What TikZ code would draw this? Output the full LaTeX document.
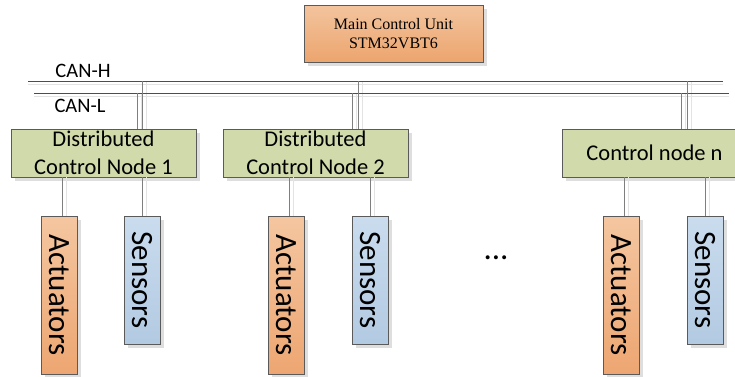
\documentclass[tikz,border=0pt]{standalone}
\usepackage{fontspec}
\setmainfont{Carlito}
\newfontfamily\serifx{Liberation Serif}
\usetikzlibrary{shadows}
\definecolor{busline}{HTML}{4D4D4D}
\definecolor{dropline}{HTML}{7F7F7F}
\definecolor{shline}{HTML}{E3E3E3}
\definecolor{boxborder}{HTML}{5A5A5A}
\definecolor{mainTop}{HTML}{F3C49E}
\definecolor{mainBot}{HTML}{ECA56E}
\definecolor{nodeFill}{HTML}{D0DAAB}
\definecolor{actL}{HTML}{EDA672}
\definecolor{actR}{HTML}{F4C6A0}
\definecolor{senL}{HTML}{B2CAE2}
\definecolor{senR}{HTML}{CADCEE}
\tikzset{
  boxshadow/.style={drop shadow={shadow xshift=3.5pt,shadow yshift=-3.5pt,fill=black!13,opacity=1}},
  mainbox/.style={draw=boxborder,line width=0.8pt,top color=mainTop,bottom color=mainBot,boxshadow,
    minimum width=179pt,minimum height=57pt,inner sep=0pt,align=center,
    font=\serifx\fontsize{16}{19}\selectfont},
  ctrlbox/.style={draw=boxborder,line width=0.8pt,fill=nodeFill,boxshadow,
    minimum width=185pt,minimum height=48pt,inner sep=0pt,align=center,
    font=\fontsize{22.5}{28}\selectfont},
  actbox/.style={draw=boxborder,line width=0.8pt,top color=actR,bottom color=actL,boxshadow,
    minimum width=158pt,minimum height=36pt,inner sep=0pt,rotate=-90,
    font=\fontsize{31}{36}\selectfont},
  senbox/.style={draw=boxborder,line width=0.8pt,top color=senR,bottom color=senL,boxshadow,
    minimum width=128pt,minimum height=36pt,inner sep=0pt,rotate=-90,
    font=\fontsize{31}{36}\selectfont},
  bus/.style={draw=busline,line width=0.9pt},
  drop/.style={draw=dropline,line width=0.9pt},
  shadowh/.style={draw=shline,line width=0.9pt,transform canvas={yshift=-3pt}},
  shadowv/.style={draw=shline,line width=0.9pt,transform canvas={xshift=4pt}},
  canlabel/.style={anchor=base,inner sep=0pt,font=\fontsize{20.5}{24}\selectfont},
}
\begin{document}
\begin{tikzpicture}[x=1pt,y=-1pt]
\useasboundingbox (0,0) rectangle (735,376);
\clip (0,0) rectangle (735,376);
\fill[white] (0,0) rectangle (735,376);

% bus coordinates
\coordinate (hL) at (28,81);
\coordinate (hR) at (723,81);
\coordinate (lL) at (34,93);
\coordinate (lR) at (729,93);

% main control unit
\node[mainbox] (mcu) at (393.5,33.5) {Main Control Unit\\STM32VBT6};

% labels
\node[canlabel] (canh) at (83,77) {CAN-H};
\node[canlabel] (canl) at (80,112) {CAN-L};

% control nodes
\node[ctrlbox] (n1) at (103.5,153) {Distributed\\Control Node 1};
\node[ctrlbox] (n2) at (315.5,153) {Distributed\\Control Node 2};
\node[ctrlbox] (nn) at (654.5,153) {Control node n};

% actuators and sensors
\node[actbox] (a1) at (59,295) {Actuators};
\node[senbox] (s1) at (142,280) {Sensors};
\node[actbox] (a2) at (286,295) {Actuators};
\node[senbox] (s2) at (370,280) {Sensors};
\node[actbox] (an) at (621,295) {Actuators};
\node[senbox] (sn) at (705,280) {Sensors};

% ellipsis
\node[anchor=base,inner sep=0pt,font=\fontsize{33}{36}\selectfont] (dots) at (496,259.5) {...};

% shadow lines
\begin{scope}
\path[shadowh] (hL) -- (hR);
\path[shadowh] (lL) -- (lR);
\foreach \nd/\dh/\dl in {n1/38.5/33.5, n2/42.5/36.5, nn/32.5/26.5}{
  \path[shadowv] ([xshift=\dh pt]\nd.north) -- ([xshift=\dh pt]\nd.north |- hL);
  \path[shadowv] ([xshift=\dl pt]\nd.north) -- ([xshift=\dl pt]\nd.north |- lL);
}
\foreach \nd/\ac/\se in {n1/a1/s1, n2/a2/s2, nn/an/sn}{
  \path[shadowv] ([xshift=3pt]\ac.west) -- ([xshift=3pt]\ac.west |- \nd.south);
  \path[shadowv] (\se.west) -- (\se.west |- \nd.south);
}
\end{scope}

% bus lines
\path[bus] (hL) -- (hR);
\path[bus] (lL) -- (lR);

% drops to bus
\foreach \nd/\dh/\dl in {n1/38.5/33.5, n2/42.5/36.5, nn/32.5/26.5}{
  \path[drop] ([xshift=\dh pt]\nd.north) -- ([xshift=\dh pt]\nd.north |- hL);
  \path[drop] ([xshift=\dl pt]\nd.north) -- ([xshift=\dl pt]\nd.north |- lL);
}

% node to actuators / sensors
\foreach \nd/\ac/\se in {n1/a1/s1, n2/a2/s2, nn/an/sn}{
  \path[drop] ([xshift=3pt]\ac.west) -- ([xshift=3pt]\ac.west |- \nd.south);
  \path[drop] (\se.west) -- (\se.west |- \nd.south);
}
\end{tikzpicture}
\end{document}
